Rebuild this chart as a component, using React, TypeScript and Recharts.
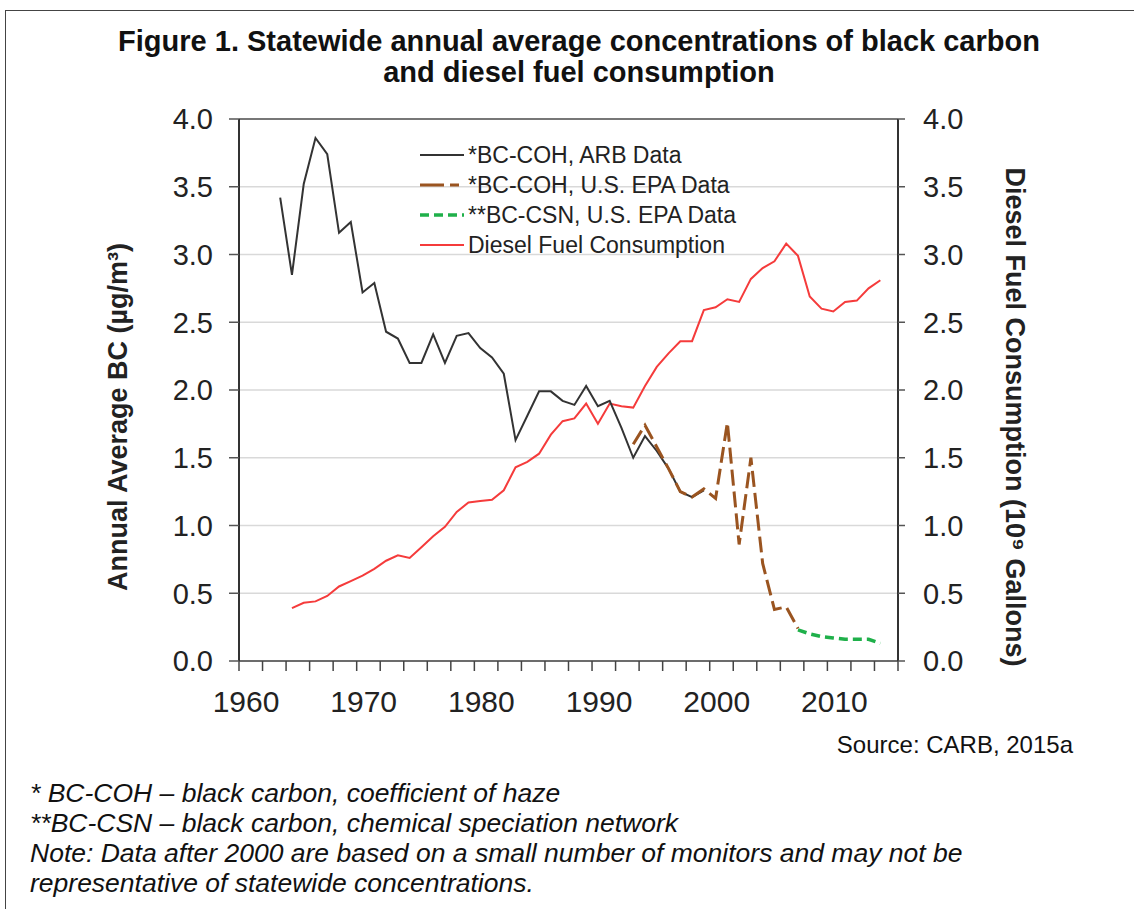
import React from 'react'
import { LineChart, Line, XAxis, YAxis, CartesianGrid, ReferenceLine } from 'recharts'

const FONT = '"Liberation Sans", Arial, sans-serif'

// *BC-COH, ARB data (ug/m3), 1963-1999
const arbStart = 1963
const arbValues = [
  3.42, 2.85, 3.52, 3.86, 3.74, 3.16, 3.24, 2.72, 2.79, 2.43,
  2.38, 2.2, 2.2, 2.41, 2.2, 2.4, 2.42, 2.31, 2.24, 2.12,
  1.63, 1.81, 1.99, 1.99, 1.92, 1.89, 2.03, 1.88, 1.92, 1.72,
  1.5, 1.66, 1.55, 1.42, 1.25, 1.21, 1.26,
]

// *BC-COH, U.S. EPA data, 1993-2007
const epaStart = 1993
const epaValues = [1.6, 1.74, 1.58, 1.42, 1.25, 1.21, 1.27, 1.2, 1.76, 0.86, 1.5, 0.72, 0.38, 0.4, 0.24]

// **BC-CSN, U.S. EPA data, 2007-2014
const csnStart = 2007
const csnValues = [0.23, 0.2, 0.18, 0.17, 0.16, 0.16, 0.16, 0.13]

// diesel fuel consumption (10^9 gallons), 1964-2014
const dieselStart = 1964
const dieselValues = [
  0.39, 0.43, 0.44, 0.48, 0.55, 0.59, 0.63, 0.68, 0.74, 0.78,
  0.76, 0.84, 0.92, 0.99, 1.1, 1.17, 1.18, 1.19, 1.26, 1.43,
  1.47, 1.53, 1.67, 1.77, 1.79, 1.9, 1.75, 1.9, 1.88, 1.87,
  2.03, 2.17, 2.27, 2.36, 2.36, 2.59, 2.61, 2.67, 2.65, 2.82,
  2.9, 2.95, 3.08, 2.99, 2.69, 2.6, 2.58, 2.65, 2.66, 2.75,
  2.81,
]

const yTicks = [0, 0.5, 1, 1.5, 2, 2.5, 3, 3.5, 4]
const xTicks = [
  1960, 1962, 1964, 1966, 1968, 1970, 1972, 1974, 1976, 1978,
  1980, 1982, 1984, 1986, 1988, 1990, 1992, 1994, 1996, 1998,
  2000, 2002, 2004, 2006, 2008, 2010, 2012, 2014, 2016,
]
const xLabels = [1960, 1970, 1980, 1990, 2000, 2010]

const series = [
  { key: 'arb', name: '*BC-COH, ARB Data', color: '#333333', width: 2, dash: undefined as string | undefined },
  { key: 'epa', name: '*BC-COH, U.S. EPA Data', color: '#9a5420', width: 3, dash: '16 6' },
  { key: 'csn', name: '**BC-CSN, U.S. EPA Data', color: '#1fb04a', width: 3.5, dash: '9 5' },
  { key: 'diesel', name: 'Diesel Fuel Consumption', color: '#f53b3b', width: 2, dash: undefined },
]

const firstYear = 1963
const lastYear = 2014
const pick = (arr: number[], start: number, y: number) =>
  y >= start && y < start + arr.length ? arr[y - start] : null

const data: any[] = []
for (let y = firstYear; y <= lastYear; y++) {
  data.push({
    // Excel category axis: each year's point sits in the middle of its slot
    x: y + 0.5,
    arb: pick(arbValues, arbStart, y),
    epa: pick(epaValues, epaStart, y),
    csn: pick(csnValues, csnStart, y),
    diesel: pick(dieselValues, dieselStart, y),
  })
}

const XTick = (props: any) => {
  const { x, y, payload } = props
  if (!xLabels.includes(payload.value)) return null
  return (
    <text x={x + 7} y={y + 41} textAnchor="middle" fontSize={30} fill="#222" fontFamily={FONT}>
      {payload.value}
    </text>
  )
}

const LegendBox = () => (
  <svg style={{ position: 'absolute', left: 415, top: 140 }} width={360} height={125}>
    {series.map((s, i) => (
      <g key={s.key}>
        <line
          x1={5}
          x2={49}
          y1={15 + i * 30}
          y2={15 + i * 30}
          stroke={s.color}
          strokeWidth={s.width}
          strokeDasharray={s.key === 'epa' ? '24 6 9 20' : s.dash}
        />
        <text x={53} y={15 + i * 30} dy="0.36em" fontSize={23} fill="#222" fontFamily={FONT}>
          {s.name}
        </text>
      </g>
    ))}
  </svg>
)

export default function App() {
  return (
    <div style={{ position: 'absolute', left: 0, top: 0, width: 1134, height: 909, background: '#fff', overflow: 'hidden', fontFamily: FONT }}>
      <div style={{ position: 'absolute', left: 5, top: 10, width: 1200, height: 1000, borderTop: '1.5px solid #444', borderLeft: '1.5px solid #444' }} />
      <div style={{ position: 'absolute', left: 0, top: 26, width: 1158, textAlign: 'center', fontSize: 29, fontWeight: 'bold', lineHeight: '31px', color: '#111' }}>
        Figure 1. Statewide annual average concentrations of black carbon
        <br />
        and diesel fuel consumption
      </div>

      <div style={{ position: 'absolute', left: 0, top: 0 }}>
        <LineChart width={1134} height={909} data={data} margin={{ top: 119, right: 136, bottom: 188, left: 139 }}>
          <CartesianGrid horizontal vertical={false} stroke="#d9d9d9" strokeWidth={1.5} yAxisId="left" />
          <XAxis
            type="number"
            dataKey="x"
            domain={[1960, 2016]}
            ticks={xTicks}
            interval={0}
            height={60}
            tickSize={10}
            tickMargin={0}
            tick={<XTick />}
            axisLine={{ stroke: '#444', strokeWidth: 1.5 }}
            tickLine={{ stroke: '#444', strokeWidth: 1.5 }}
          />
          <YAxis
            yAxisId="left"
            domain={[0, 4]}
            ticks={yTicks}
            interval={0}
            width={100}
            tickSize={10}
            tickMargin={16}
            tickFormatter={(v: number) => v.toFixed(1)}
            tick={{ fontSize: 29, fill: '#222', fontFamily: FONT }}
            axisLine={{ stroke: '#333', strokeWidth: 2 }}
            tickLine={{ stroke: '#555', strokeWidth: 1.5 }}
          />
          <YAxis
            yAxisId="right"
            orientation="right"
            domain={[0, 4]}
            ticks={yTicks}
            interval={0}
            width={100}
            tickSize={7}
            tickMargin={18}
            tickFormatter={(v: number) => v.toFixed(1)}
            tick={{ fontSize: 29, fill: '#222', fontFamily: FONT, textAnchor: 'start' }}
            axisLine={{ stroke: '#333', strokeWidth: 2 }}
            tickLine={{ stroke: '#555', strokeWidth: 1.5 }}
          />
          <ReferenceLine yAxisId="left" y={4} stroke="#777" strokeWidth={2} />
          <Line yAxisId="right" dataKey="diesel" type="linear" stroke="#f53b3b" strokeWidth={2} dot={false} isAnimationActive={false} />
          <Line yAxisId="left" dataKey="arb" type="linear" stroke="#333333" strokeWidth={2} dot={false} isAnimationActive={false} />
          <Line yAxisId="left" dataKey="epa" type="linear" stroke="#9a5420" strokeWidth={3} strokeDasharray="16 6" dot={false} isAnimationActive={false} />
          <Line yAxisId="left" dataKey="csn" type="linear" stroke="#1fb04a" strokeWidth={3.5} strokeDasharray="9 5" dot={false} isAnimationActive={false} />
        </LineChart>
      </div>

      <LegendBox />

      <svg style={{ position: 'absolute', left: 0, top: 0 }} width={1134} height={909}>
        <text transform="translate(117,417) rotate(-90)" textAnchor="middle" dy="0.36em" fontSize={27} fontWeight="bold" fill="#222" fontFamily={FONT}>
          Annual Average BC (µg/m³)
        </text>
        <text transform="translate(1016,417) rotate(90)" textAnchor="middle" dy="0.36em" fontSize={27} fontWeight="bold" fill="#222" fontFamily={FONT}>
          Diesel Fuel Consumption (10⁹ Gallons)
        </text>
      </svg>

      <div style={{ position: 'absolute', left: 0, top: 732, width: 1073, textAlign: 'right', fontSize: 24, lineHeight: '26px', color: '#111' }}>
        Source: CARB, 2015a
      </div>
      <div style={{ position: 'absolute', left: 30, top: 778, fontSize: 26.5, fontStyle: 'italic', lineHeight: '30px', color: '#111' }}>
        * BC-COH – black carbon, coefficient of haze
        <br />
        **BC-CSN – black carbon, chemical speciation network
        <br />
        Note: Data after 2000 are based on a small number of monitors and may not be
        <br />
        representative of statewide concentrations.
      </div>
    </div>
  )
}
